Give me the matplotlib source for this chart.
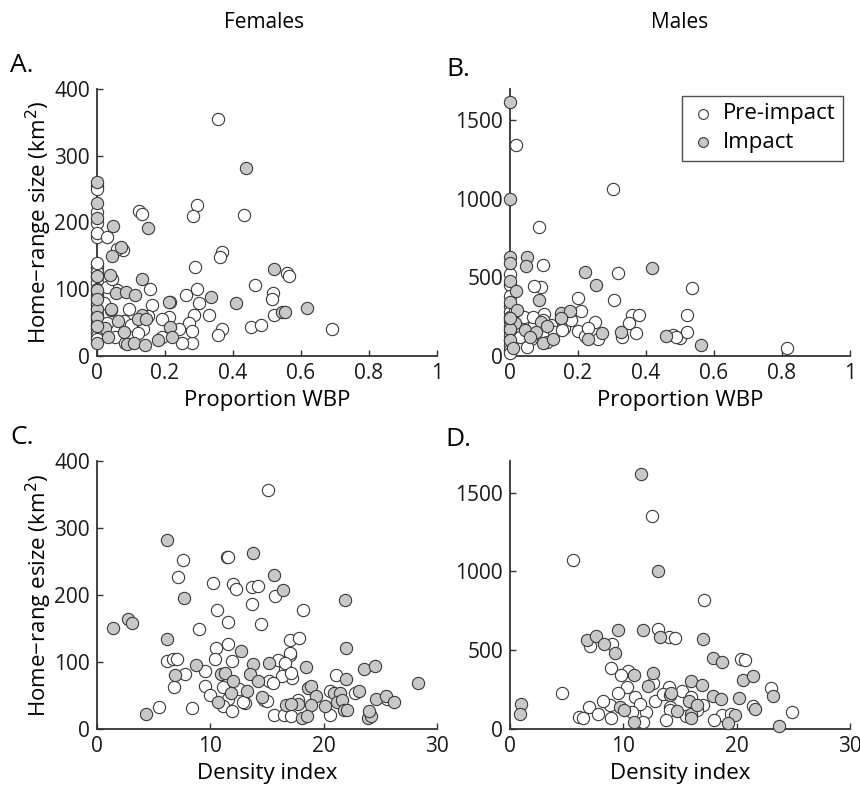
import numpy as np
import matplotlib
matplotlib.use("Agg")
from matplotlib import pyplot as plt

plt.rcParams['font.family'] = ['Open Sans', 'DejaVu Sans']

# Females, proportion WBP vs home-range size (km2)
fem_wbp_pre_x = [0, 0, 0, 0, 0, 0, 0, 0, 0, 0, 0, 0, 0, 0, 0, 0, 0, 0, 0, 0, 0, 0, 0,
                 0.357, 0.124, 0.131, 0.295, 0.283, 0.431, 0.028, 0.077, 0.06, 0.367, 0.362,
                 0.288, 0.465, 0.519, 0.515, 0.558, 0.565, 0.293, 0.262, 0.216, 0.301, 0.156,
                 0.161, 0.213, 0.286, 0.33, 0.272, 0.367, 0.357, 0.453, 0.482, 0.52, 0.278,
                 0.278, 0.095, 0.078, 0.10, 0.058, 0.03, 0.04, 0.053, 0.083, 0.191, 0.692,
                 0.135, 0.15, 0.02, 0.03, 0.12, 0.24, 0.25, 0.19, 0.045]
fem_wbp_pre_y = [255, 250, 216, 199, 179, 134, 126, 119, 110, 100, 92, 85, 78, 70, 62, 55, 48, 42, 36, 30, 25, 140, 185,
                 355, 217, 212, 226, 209, 211, 179, 159, 160, 156, 149,
                 134, 106, 94, 86, 124, 120, 100, 91, 81, 79, 101,
                 76, 59, 61, 61, 49, 41, 31, 44, 46, 61, 19,
                 37, 70, 52, 46, 99, 104, 69, 29, 19, 29, 41,
                 40, 60, 80, 50, 35, 40, 20, 55, 115]
fem_wbp_imp_x = [0.437, 0, 0, 0, 0.046, 0.149, 0.07, 0.045, 0.037, 0.131, 0.52, 0.545, 0.408,
                 0.335, 0.213, 0.057, 0.086, 0.113, 0, 0, 0, 0.04, 0.131, 0.12, 0.145, 0.062,
                 0.024, 0.215, 0.222, 0.079, 0.033, 0, 0.088, 0.11, 0.14, 0.178, 0.617, 0.553,
                 0, 0, 0]
fem_wbp_imp_y = [282, 261, 229, 206, 195, 192, 164, 150, 121, 116, 131, 66, 79,
                 88, 81, 95, 96, 91, 99, 71, 58, 71, 62, 56, 56, 52,
                 42, 44, 29, 36, 29, 19, 18, 20, 17, 24, 72, 66,
                 85, 45, 120]

# Females, density index vs home-range size
fem_dens_pre_x = [15.1, 11.45, 11.6, 7.56, 7.12, 10.2, 12.0, 12.27, 13.65, 14.2, 13.7, 15.7, 10.56,
                  18.2, 11.6, 14.5, 9.0, 17.0, 17.8, 10.5, 11.6, 6.2, 6.7, 7.1, 10.4, 11.9, 16.0,
                  17.0, 17.0, 7.8, 9.5, 16.6, 17.2, 16.3, 15.2, 21.1, 6.8, 9.5, 11.15, 9.97, 11.6,
                  13.1, 14.7, 11.15, 11.9, 8.36, 5.5, 15.6, 16.5, 20.6, 17.1, 17.7, 22.8, 25.6,
                  20.6, 12.9, 15.0, 15.5, 16.6, 12.5, 17.1]
fem_dens_pre_y = [357, 257, 256, 252, 227, 218, 217, 209, 212, 213, 186, 198, 178,
                  177, 159, 156, 149, 133, 136, 121, 127, 101, 105, 104, 104, 101, 103,
                  110, 113, 82, 86, 89, 76, 79, 71, 81, 62, 64, 63, 51, 45,
                  39, 43, 34, 27, 32, 33, 21, 21, 21, 20, 44, 53, 45,
                  56, 40, 42, 68, 98, 60, 83]
fem_dens_imp_x = [6.2, 13.8, 15.6, 16.4, 7.7, 21.9, 2.7, 3.1, 1.44, 6.2, 12.7, 22.0, 8.7, 13.8,
                  15.2, 18.4, 23.6, 24.5, 6.9, 10.9, 11.3, 12.0, 13.5, 14.2, 28.3, 22.0, 18.6,
                  18.9, 11.8, 13.2, 14.6, 10.65, 19.3, 20.9, 21.4, 23.1, 16.7, 17.7, 18.9, 20.1,
                  21.2, 21.6, 24.6, 25.5, 26.2, 17.1, 18.1, 18.5, 21.8, 22.1, 23.9, 24.2, 24.0, 4.3]
fem_dens_imp_y = [282, 262, 230, 207, 196, 192, 164, 158, 151, 134, 116, 121, 96, 97,
                  99, 92, 89, 94, 81, 82, 84, 72, 82, 72, 69, 74, 61,
                  64, 54, 57, 48, 41, 49, 53, 54, 56, 36, 38, 36, 34,
                  40, 43, 45, 50, 41, 38, 16, 19, 29, 28, 16, 19, 27, 22]

# Males, proportion WBP vs home-range size
mal_wbp_pre_x = [0, 0, 0, 0, 0, 0, 0, 0, 0, 0, 0, 0, 0, 0,
                 0.018, 0.304, 0.086, 0.098, 0.319, 0.09, 0.2, 0.305, 0.21, 0.25, 0.36, 0.38,
                 0.35, 0.37, 0.33, 0.48, 0.5, 0.2, 0.16, 0.063, 0.534, 0.52, 0.52, 0.487, 0.816,
                 0.04, 0.07, 0.12, 0.13, 0.18, 0.22, 0.03, 0.1, 0.11, 0.05, 0.23, 0.26, 0.15,
                 0.071, 0.015, 0.068, 0.097, 0.153]
mal_wbp_pre_y = [523, 450, 380, 320, 280, 250, 220, 190, 160, 130, 100, 70, 40, 20,
                 1346, 1065, 823, 580, 527, 439, 371, 359, 285, 218, 260, 260,
                 207, 145, 118, 135, 112, 156, 181, 107, 435, 264, 155, 118, 49,
                 250, 200, 200, 150, 230, 130, 120, 270, 90, 60, 180, 110, 240,
                 443, 285, 250, 230, 165]
mal_wbp_imp_x = [0, 0, 0, 0, 0.051, 0.047, 0, 0.017, 0.086, 0.22, 0.253, 0.417, 0, 0.02, 0.15,
                 0.175, 0.15, 0.09, 0.015, 0, 0.044, 0.075, 0.098, 0.125, 0.23, 0.27, 0.326,
                 0.46, 0.561, 0, 0, 0.01, 0.11, 0.06]
mal_wbp_imp_y = [1616, 998, 633, 590, 628, 576, 475, 413, 359, 532, 454, 563, 344, 290, 273,
                 288, 239, 218, 212, 170, 167, 152, 80, 107, 107, 145, 154,
                 129, 70, 100, 240, 50, 190, 120]

# Males, density index vs home-range size
mal_dens_pre_x = [12.5, 5.6, 17.1, 13.1, 14.0, 14.56, 7.1, 9.0, 20.4, 20.7, 8.9, 10.4, 9.8, 4.56,
                  12.6, 10.3, 14.0, 7.0, 7.8, 8.8, 8.9, 6.1, 6.4, 12.0, 11.7, 14.1, 23.0, 24.9,
                  21.45, 18.7, 19.5, 14.15, 15.2, 11.0, 11.5, 12.8, 13.5, 16.0, 17.0, 9.5, 15.5,
                  10.8, 8.2, 13.8, 16.5, 18.0]
mal_dens_pre_y = [1348, 1070, 821, 637, 582, 580, 528, 540, 446, 440, 390, 370, 340, 230,
                  290, 268, 264, 141, 93, 153, 72, 74, 70, 105, 47, 140, 257, 106,
                  144, 87, 95, 123, 240, 200, 160, 180, 220, 200, 150, 230, 80,
                  110, 175, 60, 120, 60]
mal_dens_imp_x = [11.6, 13.1, 6.77, 7.6, 8.3, 9.3, 9.56, 11.7, 13.2, 10.9, 12.6, 14.1, 9.7, 10.1,
                  10.9, 0.97, 0.88, 17.0, 17.9, 18.7, 20.6, 21.4, 15.97, 16.97, 14.2, 15.8, 17.9,
                  18.6, 20.2, 23.2, 21.6, 19.85, 14.7, 15.95, 15.95, 19.2, 23.7, 12.2, 16.5]
mal_dens_imp_y = [1618, 1000, 563, 589, 538, 479, 627, 631, 584, 342, 354, 215, 139, 118,
                  45, 158, 93, 570, 451, 422, 310, 337, 306, 277, 230, 179, 209,
                  188, 198, 209, 124, 89, 115, 98, 71, 40, 21, 270, 150]

EDGE = '#3a3a3a'
GRAY = '#c8c8c8'
MS = 78


def Draw_Panel(ax, px, py, ix, iy, xlim, ylim, xticks, yticks, xticklabels):
	ax.scatter(px, py, s=MS, facecolor='white', edgecolor=EDGE, linewidth=0.8, clip_on=False, zorder=3, label='Pre-impact')
	ax.scatter(ix, iy, s=MS, facecolor=GRAY, edgecolor=EDGE, linewidth=0.8, clip_on=False, zorder=3, label='Impact')
	ax.set_xlim(xlim)
	ax.set_ylim(ylim)
	ax.set_xticks(xticks)
	ax.set_xticklabels(xticklabels)
	ax.set_yticks(yticks)
	for s in ['top', 'right']:
		ax.spines[s].set_visible(False)
	for s in ['left', 'bottom']:
		ax.spines[s].set_color('#333333')
		ax.spines[s].set_linewidth(1.3)
	ax.tick_params(direction='in', length=4, width=1, colors='#333333', labelsize=15, labelcolor='#1a1a1a', pad=5)


fig = plt.figure(figsize=(8.6, 7.94), dpi=100)
W, H = 860.0, 794.0
axA = fig.add_axes([97 / W, 1 - 356 / H, 340 / W, 267 / H])
axB = fig.add_axes([510 / W, 1 - 356 / H, 340 / W, 267 / H])
axC = fig.add_axes([97 / W, 1 - 729 / H, 340 / W, 268 / H])
axD = fig.add_axes([510 / W, 1 - 729 / H, 340 / W, 268 / H])

wbp_ticks = [0, 0.2, 0.4, 0.6, 0.8, 1]
wbp_labels = ['0', '0.2', '0.4', '0.6', '0.8', '1']

Draw_Panel(axA, fem_wbp_pre_x, fem_wbp_pre_y, fem_wbp_imp_x, fem_wbp_imp_y,
           (0, 1), (0, 400), wbp_ticks, [0, 100, 200, 300, 400], wbp_labels)
Draw_Panel(axB, mal_wbp_pre_x, mal_wbp_pre_y, mal_wbp_imp_x, mal_wbp_imp_y,
           (0, 1), (0, 1700), wbp_ticks, [0, 500, 1000, 1500], wbp_labels)
Draw_Panel(axC, fem_dens_pre_x, fem_dens_pre_y, fem_dens_imp_x, fem_dens_imp_y,
           (0, 30), (0, 400), [0, 10, 20, 30], [0, 100, 200, 300, 400], ['0', '10', '20', '30'])
Draw_Panel(axD, mal_dens_pre_x, mal_dens_pre_y, mal_dens_imp_x, mal_dens_imp_y,
           (0, 30), (0, 1700), [0, 10, 20, 30], [0, 500, 1000, 1500], ['0', '10', '20', '30'])

axA.set_xlabel('Proportion WBP', fontsize=16, labelpad=4)
axB.set_xlabel('Proportion WBP', fontsize=16, labelpad=4)
axC.set_xlabel('Density index', fontsize=16, labelpad=4)
axD.set_xlabel('Density index', fontsize=16, labelpad=4)
axA.set_ylabel('Home\u2212range size (km$^2$)', fontsize=16, labelpad=0)
axC.set_ylabel('Home\u2212rang esize (km$^2$)', fontsize=16, labelpad=0)

leg = axB.legend(loc='upper right', bbox_to_anchor=(0.98, 0.975), borderaxespad=0, fontsize=16,
                 markerscale=0.8, frameon=True, fancybox=False, handletextpad=0.3, borderpad=0.35,
                 labelspacing=0.35, handlelength=1.2)
leg.get_frame().set_edgecolor('#222222')
leg.get_frame().set_linewidth(1.0)

fig.text(264 / W, 1 - 22 / H, 'Females', fontsize=15, ha='center', va='center')
fig.text(680 / W, 1 - 22 / H, 'Males', fontsize=15, ha='center', va='center')
fig.text(22 / W, 1 - 65 / H, 'A.', fontsize=19, ha='center', va='center')
fig.text(458 / W, 1 - 70 / H, 'B.', fontsize=19, ha='center', va='center')
fig.text(22 / W, 1 - 437 / H, 'C.', fontsize=19, ha='center', va='center')
fig.text(458 / W, 1 - 440 / H, 'D.', fontsize=19, ha='center', va='center')

fig.savefig('out.png', dpi=100)
